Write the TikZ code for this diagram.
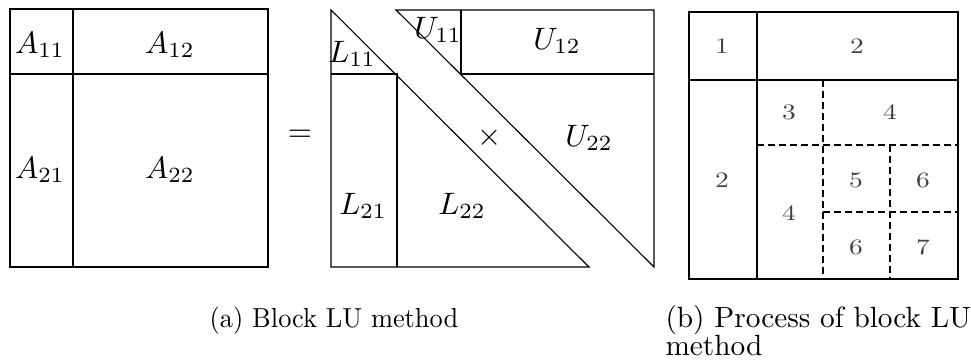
\documentclass[tikz,border=0pt]{standalone}
\usetikzlibrary{positioning}
\newcommand{\ent}[1]{\scalebox{3.1}{$#1$}}
\newcommand{\stepno}[1]{\scalebox{2.75}[2.2]{#1}}
\tikzset{
  ent/.style={inner sep=0pt},
  num/.style={inner sep=0pt,text=black!75},
  captext/.style={inner sep=0pt},
  cut/.style={dashed,dash pattern=on 7pt off 4pt}
}

\begin{document}
\begin{tikzpicture}[x=1pt,y=-1pt,line width=1.1pt]
\useasboundingbox (0,0) rectangle (971,363);
% matrix A
\draw (10,9) rectangle (268,267);
\draw (73,9)--(73,267);
\draw (10,74)--(268,74);
\node[ent](a11)at(40,45){\ent{A_{11}}};
\node[ent](a12)at(170,45){\ent{A_{12}}};
\node[ent](a21)at(40,170){\ent{A_{21}}};
\node[ent](a22)at(170,170){\ent{A_{22}}};
\node[ent](eq)at(300,136){\ent{=}};
% L part
\draw (331,10)--(589,267)--(331,267)--cycle;
\draw (331,74)--(397,74)--(397,267);
% U part
\draw (396,10)--(654,10)--(654,267)--cycle;
\draw (461,10)--(461,74)--(654,74);
\node[ent](l11)at(352,54){\ent{L_{11}}};
\node[ent](u11)at(438,30){\ent{U_{11}}};
\node[ent](u12)at(557,41){\ent{U_{12}}};
\node[ent](u22)at(589,138){\ent{U_{22}}};
\node[ent](times)at(490,138){\ent{\times}};
\node[ent](l21)at(363,206){\ent{L_{21}}};
\node[ent](l22)at(462,206){\ent{L_{22}}};
% process
\draw (689,12) rectangle (958,279);
\draw (757,12)--(757,279);
\draw (689,80)--(958,80);
\draw[cut] (823,80)--(823,279);
\draw[cut] (757,145)--(958,145);
\draw[cut] (890,145)--(890,279);
\draw[cut] (823,212)--(958,212);
\node[num](p1)at(722,46){\stepno{1}};
\node[num](p2)at(857,46){\stepno{2}};
\node[num](q2)at(722,180){\stepno{2}};
\node[num](p3)at(789,112){\stepno{3}};
\node[num](p4)at(890,112){\stepno{4}};
\node[num](q4)at(789,213){\stepno{4}};
\node[num](p5)at(856,180){\stepno{5}};
\node[num](p6)at(923,180){\stepno{6}};
\node[num](q6)at(856,247){\stepno{6}};
\node[num](p7)at(923,247){\stepno{7}};
% captions
\node[captext,anchor=base](capa)at(334,327){\scalebox{2.64}[2.75]{(a) Block LU method}};
\node[captext,anchor=base west](capb)at(665,327){\scalebox{2.93}{\def\arraystretch{0.8}%
  \begin{tabular}[t]{@{}l@{}}(b) Process of block LU\\method\end{tabular}}};
\end{tikzpicture}
\end{document}
